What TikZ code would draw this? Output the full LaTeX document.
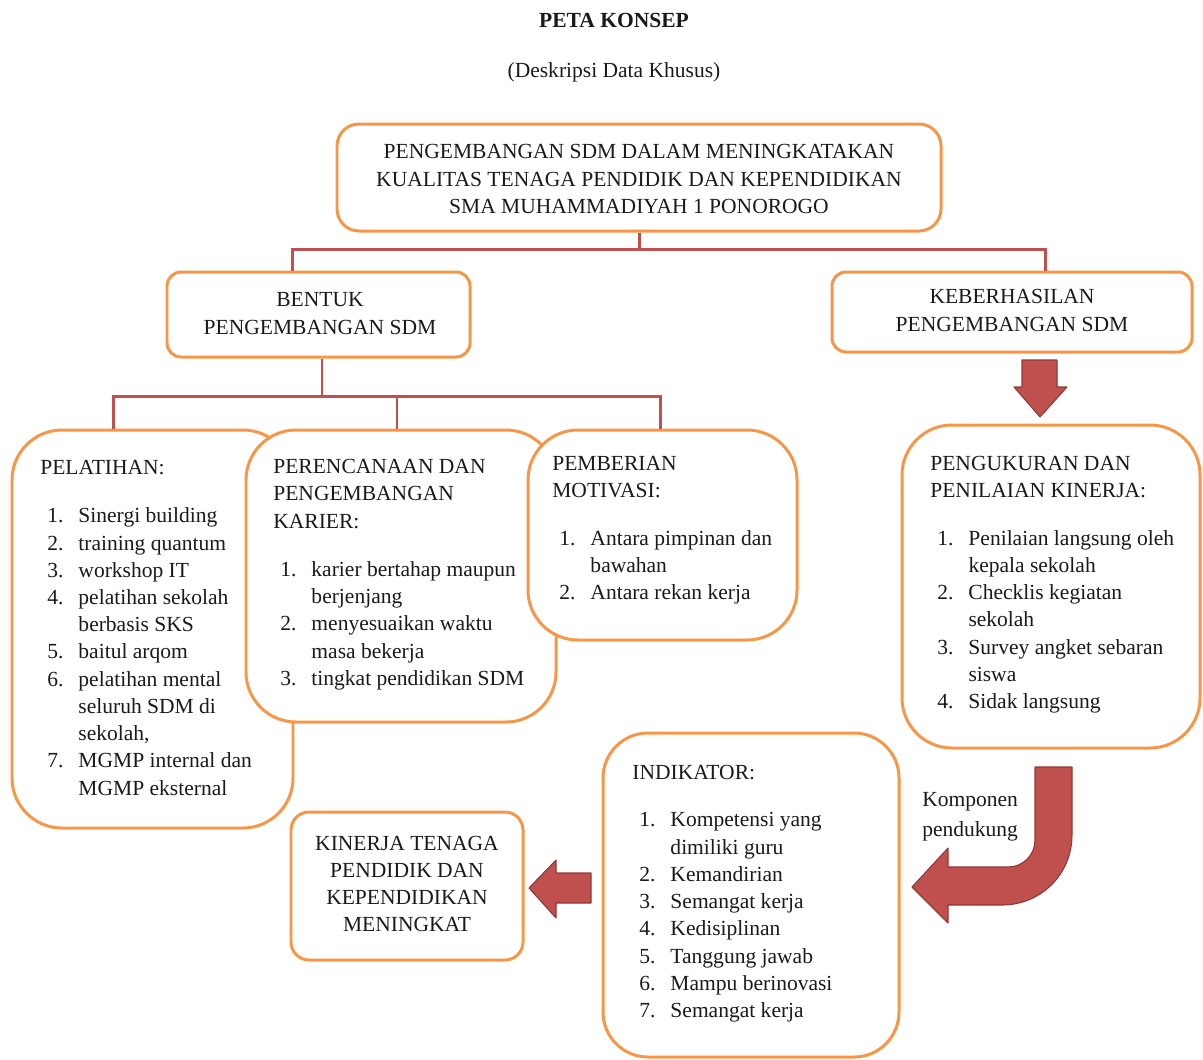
\documentclass[tikz,border=0pt]{standalone}
\usepackage{fontspec}
\setmainfont{Liberation Serif}
\usepackage{xcolor}
\usepackage{tikz}
\usetikzlibrary{positioning,fit,calc}
\definecolor{BorderOrange}{HTML}{F79646}
\definecolor{LineRed}{HTML}{C0504D}
\definecolor{ArrowEdge}{HTML}{8C3A37}
\definecolor{TextDark}{HTML}{1A1A1A}
\newcommand{\isidaftar}[1]{\begin{tabular}[t]{@{\hspace{0.14cm}}l@{\hspace{0.3cm}}l@{}}#1\end{tabular}}

\begin{document}
\begin{tikzpicture}[x=0.02cm,y=-0.02cm,
    every node/.style={font=\fontsize{12.25}{15.5}\selectfont, text=TextDark},
    kotak/.style={draw=BorderOrange, line width=1.7pt, fill=white, inner sep=0pt},
    tengah/.style={align=center, inner sep=0pt},
    isi/.style={anchor=north west, align=left, inner sep=0pt},
    garis/.style={draw=LineRed, line width=1.7pt},
    panah/.style={fill=LineRed, draw=ArrowEdge, line width=0.6pt, line join=round}]
  \useasboundingbox (0,0) rectangle (1203,1059);
  \node[font=\fontsize{12.25}{15.5}\selectfont\bfseries] (judul) at (614,20) {PETA KONSEP};
  \node (subjudul) at (614,72) {(Deskripsi Data Khusus)};
  % kotak utama
  \node[kotak, rounded corners=0.44cm, fit={(337,124) (941,231)}] (atas) {};
  \node[tengah] (tatas) at ([yshift=-0.03cm]atas.center)
    {PENGEMBANGAN SDM DALAM MENINGKATAKAN\\
     KUALITAS TENAGA PENDIDIK DAN KEPENDIDIKAN\\
     SMA MUHAMMADIYAH 1 PONOROGO};
  \node[kotak, rounded corners=0.28cm, fit={(167,272) (470,357)}] (bentuk) {};
  \node[tengah] (tbentuk) at ([xshift=0.03cm,yshift=0.02cm]bentuk.center)
    {BENTUK\\PENGEMBANGAN SDM};
  \node[kotak, rounded corners=0.28cm, fit={(832,272) (1192,352)}] (hasil) {};
  \node[tengah] (thasil) at ([yshift=0.03cm]hasil.center)
    {KEBERHASILAN\\PENGEMBANGAN SDM};
  % tiga bentuk pengembangan
  \node[kotak, rounded corners=1cm, fit={(12,430) (293,828)}] (pelatihan) {};
  \node[isi] (tpelatihan) at (40,460) {PELATIHAN:\\[0.42cm]
    \isidaftar{1. & Sinergi building\\ 2. & training quantum\\ 3. & workshop IT\\
      4. & pelatihan sekolah\\ & berbasis SKS\\ 5. & baitul arqom\\
      6. & pelatihan mental\\ & seluruh SDM di\\ & sekolah,\\
      7. & MGMP internal dan\\ & MGMP eksternal}};
  \node[kotak, rounded corners=1cm, fit={(246,430) (556,722)}] (perencanaan) {};
  \node[isi] (tperencanaan) at (273,459) {PERENCANAAN DAN\\PENGEMBANGAN\\KARIER:\\[0.42cm]
    \isidaftar{1. & karier bertahap maupun\\ & berjenjang\\
      2. & menyesuaikan waktu\\ & masa bekerja\\ 3. & tingkat pendidikan SDM}};
  \node[kotak, rounded corners=1cm, fit={(528,430) (797,640)}] (pemberian) {};
  \node[isi] (tpemberian) at (552,456) {PEMBERIAN\\MOTIVASI:\\[0.4cm]
    \isidaftar{1. & Antara pimpinan dan\\ & bawahan\\ 2. & Antara rekan kerja}};
  % keberhasilan
  \node[kotak, rounded corners=1cm, fit={(902,425) (1200,748)}] (pengukuran) {};
  \node[isi] (tpengukuran) at (930,456) {PENGUKURAN DAN\\PENILAIAN KINERJA:\\[0.4cm]
    \isidaftar{1. & Penilaian langsung oleh\\ & kepala sekolah\\
      2. & Checklis kegiatan\\ & sekolah\\ 3. & Survey angket sebaran\\ & siswa\\
      4. & Sidak langsung}};
  \node[kotak, rounded corners=0.9cm, fit={(603,733) (899,1057)}] (indikator) {};
  \node[isi] (tindikator) at (632,765) {INDIKATOR:\\[0.4cm]
    \isidaftar{1. & Kompetensi yang\\ & dimiliki guru\\ 2. & Kemandirian\\
      3. & Semangat kerja\\ 4. & Kedisiplinan\\ 5. & Tanggung jawab\\
      6. & Mampu berinovasi\\ 7. & Semangat kerja}};
  \node[kotak, rounded corners=0.36cm, fit={(291,812) (523,960)}] (kinerja) {};
  \node[tengah] (tkinerja) at ([yshift=0.04cm]kinerja.center)
    {KINERJA TENAGA\\PENDIDIK DAN\\KEPENDIDIKAN\\MENINGKAT};
  \node[isi] (komponen) at (922,792) {Komponen\\[0.05cm]pendukung};
  % garis cabang
  \draw[garis] (atas.south) -- ++(0,17) coordinate (cabang1);
  \draw[garis] (cabang1) -| ([xshift=-0.53cm]bentuk.north);
  \draw[garis] (cabang1) -| ([xshift=0.66cm]hasil.north);
  \draw[garis] ([xshift=0.07cm]bentuk.south) -- ++(0,38) coordinate (cabang2);
  \draw[garis] (cabang2) -| ([xshift=-0.79cm]pelatihan.north);
  \draw[garis] (cabang2) -| ([xshift=-0.08cm]perencanaan.north);
  \draw[garis] (cabang2) -| ([xshift=-0.05cm]pemberian.north);
  % panah blok
  \draw[panah] (1022,360) -- (1057,360) -- (1057,387) -- (1067,387) -- (1040,417)
    -- (1014,387) -- (1022,387) -- cycle;
  \draw[panah] (1035,767) -- (1072,767) -- (1072,835) .. controls (1072,874) and (1041,905) .. (1002,905)
    -- (948,905) -- (948,923) -- (912,887) -- (948,848) -- (948,867) -- (1008,867)
    .. controls (1023,867) and (1035,855) .. (1035,840) -- cycle;
  \draw[panah] (591,873) -- (591,903) -- (556,903) -- (556,918) -- (529,888)
    -- (556,860) -- (556,873) -- cycle;
\end{tikzpicture}
\end{document}
